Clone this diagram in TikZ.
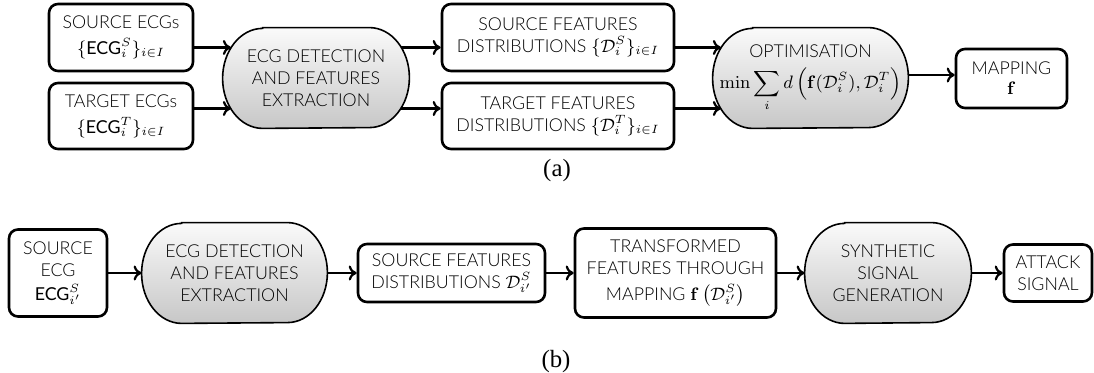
\documentclass[tikz,border=0pt]{standalone}
\usepackage{amsmath}
\usepackage[no-math]{fontspec}
\IfFontExistsTF{Lato Light}{\setmainfont{Lato Light}}{\setmainfont{Lato}}
\newfontfamily\ecgf{Lato}
\newfontfamily\capf{Liberation Serif}
\usetikzlibrary{arrows.meta,calc,backgrounds}
\newcommand{\ECG}{\mbox{\ecgf ECG}}
\newcommand{\stadpath}[1]{%
  \path[stadline] ([xshift=20pt]#1.north west) -- ([xshift=-20pt]#1.north east)
    arc[start angle=90,end angle=-90,x radius=20pt,y radius=25pt]
    -- ([xshift=20pt]#1.south west)
    arc[start angle=270,end angle=90,x radius=20pt,y radius=25pt] -- cycle;}
\tikzset{
  txt/.style={align=center, inner sep=0pt, font=\fontsize{8.9}{10.9}\selectfont},
  box/.style={txt, draw, line width=1.3pt, rounded corners=4.5pt},
  stad/.style={txt, minimum height=50pt},
  stadline/.style={draw, line width=0.8pt, top color=black!2, bottom color=black!22},
  arr/.style={line width=1.1pt, -{To[length=4pt,width=7.5pt]}},
  capt/.style={inner sep=0pt, font=\capf\fontsize{12.4}{14}\selectfont}
}
\begin{document}
\begin{tikzpicture}[x=0.5pt,y=-0.5pt]
\useasboundingbox (0,0) rectangle (1094,373);
% row (a)
\node[box, minimum width=72pt, minimum height=33.5pt] (srcA) at (121,37.5)
  {SOURCE ECGs\\[2pt]$\{\ECG_i^S\}_{i\in I}$};
\node[box, minimum width=72pt, minimum height=33pt] (tgtA) at (121,116)
  {TARGET ECGs\\[2pt]$\{\ECG_i^T\}_{i\in I}$};
\node[stad, minimum width=93pt] (detA) at (316,78)
  {ECG DETECTION\\AND FEATURES\\EXTRACTION};
\node[box, minimum width=116pt, minimum height=33.5pt] (sfA) at (558,37.5)
  {SOURCE FEATURES\\DISTRIBUTIONS $\{\mathcal{D}_i^S\}_{i\in I}$};
\node[box, minimum width=116pt, minimum height=33pt] (tfA) at (558,116)
  {TARGET FEATURES\\DISTRIBUTIONS $\{\mathcal{D}_i^T\}_{i\in I}$};
\node[stad, minimum width=97.5pt] (optA) at (810.5,78)
  {OPTIMISATION\\[5pt]$\displaystyle\min\sum_i d\left(\mathbf{f}(\mathcal{D}_i^S),\mathcal{D}_i^T\right)$};
\node[box, minimum width=55.5pt, minimum height=29.5pt] (mapA) at (1011.5,78.5)
  {MAPPING\\[-1pt]$\mathbf{f}$};
\node[capt] (capA) at (557,171) {(a)};
% row (b)
\node[box, minimum width=49pt, minimum height=43.5pt] (srcB) at (58,273)
  {SOURCE\\ECG\\[1pt]$\ECG_{i'}^S$};
\node[stad, minimum width=92.5pt] (detB) at (234.5,273)
  {ECG DETECTION\\AND FEATURES\\EXTRACTION};
\node[box, minimum width=93.5pt, minimum height=29pt] (sfB) at (451.5,273)
  {SOURCE FEATURES\\DISTRIBUTIONS $\mathcal{D}_{i'}^S$};
\node[box, minimum width=100.5pt, minimum height=44.5pt] (trB) at (675.5,273)
  {TRANSFORMED\\FEATURES THROUGH\\[2pt]MAPPING $\mathbf{f}\left(\mathcal{D}_{i'}^S\right)$};
\node[stad, minimum width=83pt] (synB) at (888,273)
  {SYNTHETIC\\SIGNAL\\GENERATION};
\node[box, minimum width=44pt, minimum height=28.5pt] (atkB) at (1048,273)
  {ATTACK\\SIGNAL};
\node[capt] (capB) at (556,362) {(b)};
% stadium outlines
\begin{scope}[on background layer]
  \stadpath{detA}\stadpath{optA}\stadpath{detB}\stadpath{synB}
\end{scope}
% arrow end points on the stadium outlines
\coordinate (dAin1) at ($(detA.west)+(8.3,-30.5)$);
\coordinate (dAin2) at ($(detA.west)+(8.3,30.5)$);
\coordinate (dAout1) at ($(detA.east)+(-8.3,-30.5)$);
\coordinate (dAout2) at ($(detA.east)+(-8.3,30.5)$);
\coordinate (oAin1) at ($(optA.west)+(8.3,-30.5)$);
\coordinate (oAin2) at ($(optA.west)+(8.3,30.5)$);
\coordinate (oAout) at ($(optA.east)+(0,-3)$);
% arrows (a)
\draw[arr] (srcA.east |- dAin1) -- (dAin1);
\draw[arr] (tgtA.east |- dAin2) -- (dAin2);
\draw[arr] (dAout1) -- (sfA.west |- dAout1);
\draw[arr] (dAout2) -- (tfA.west |- dAout2);
\draw[arr] (sfA.east |- oAin1) -- (oAin1);
\draw[arr] (tfA.east |- oAin2) -- (oAin2);
\draw[arr] (oAout) -- (mapA.west |- oAout);
% arrows (b)
\draw[arr] (srcB.east) -- (detB.west);
\draw[arr] (detB.east) -- (sfB.west);
\draw[arr] (sfB.east) -- (trB.west);
\draw[arr] (trB.east) -- (synB.west);
\draw[arr] (synB.east) -- (atkB.west);
\end{tikzpicture}
\end{document}
